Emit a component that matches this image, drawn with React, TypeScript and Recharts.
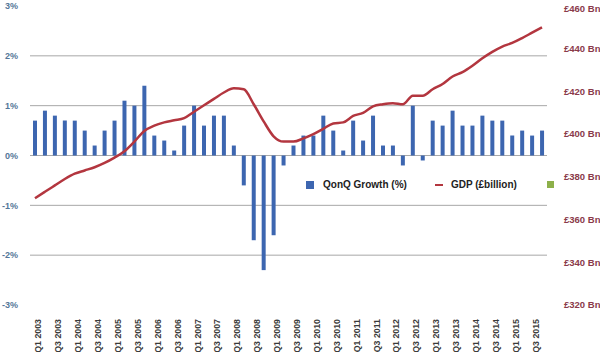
import React from "react";
import {
  ComposedChart,
  Bar,
  Line,
  XAxis,
  YAxis,
  CartesianGrid,
} from "recharts";

if (typeof document !== "undefined") document.body.style.margin = "0";

const years = [2003, 2004, 2005, 2006, 2007, 2008, 2009, 2010, 2011, 2012, 2013, 2014, 2015];
const quarterNames = ["Q1", "Q2", "Q3", "Q4"];

const growth = [
  0.7, 0.9, 0.8, 0.7,
  0.7, 0.5, 0.2, 0.5,
  0.7, 1.1, 1.0, 1.4,
  0.4, 0.3, 0.1, 0.6,
  1.0, 0.6, 0.8, 0.8,
  0.2, -0.6, -1.7, -2.3,
  -1.6, -0.2, 0.2, 0.4,
  0.4, 0.8, 0.5, 0.1,
  0.7, 0.3, 0.8, 0.2,
  0.2, -0.2, 1.0, -0.1,
  0.7, 0.6, 0.9, 0.6,
  0.6, 0.8, 0.7, 0.7,
  0.4, 0.5, 0.4, 0.5,
];

const gdp = [
  370, 373, 376, 379,
  381.5, 383, 384.5, 386.5,
  389, 392, 396.5, 401.5,
  404, 405.5, 406.5, 407.5,
  410.5, 413.5, 416.5, 419.5,
  421.5, 421, 414, 406,
  399, 396.5, 396.5, 398,
  400, 402.5, 405, 405.5,
  408.5, 410, 413, 414,
  414.5, 414, 418, 418,
  421, 423.5, 427, 429,
  432, 435.5, 438.5, 441,
  442.7, 445, 447.5, 450,
];

const pctTicks = [-3, -2, -1, 0, 1, 2, 3];
const gdpTicks = [320, 340, 360, 380, 400, 420, 440, 460];
const gridValues = [-2, -1, 0, 1, 2];

const labels = years.flatMap((y) => quarterNames.map((q) => `${q} ${y}`));
const data = labels.map((label, i) => ({ label, growth: growth[i], gdp: gdp[i] }));

const FONT = "'Liberation Sans', Arial, sans-serif";

function QuarterTick({ x, y, payload }: any) {
  return (
    <text
      transform={`translate(${x + 6.5},${y + 6}) rotate(-90)`}
      textAnchor="end"
      fontFamily={FONT}
      fontWeight="bold"
      fontSize={8.8}
      fill="#3a3a3a"
    >
      {payload.value}
    </text>
  );
}

function GdpTick({ x, y, payload }: any) {
  return (
    <text
      x={x + 9}
      y={y}
      dy="0.35em"
      textAnchor="start"
      fontFamily={FONT}
      fontWeight="bold"
      fontSize={9.5}
      fill="#8a3a4a"
    >
      {`£${payload.value} Bn`}
    </text>
  );
}

function ChartLegend() {
  return (
    <div
      style={{
        position: "absolute",
        left: 306,
        top: 179,
        display: "flex",
        alignItems: "center",
        fontFamily: FONT,
        fontWeight: "bold",
        fontSize: 10,
        color: "#222",
        whiteSpace: "nowrap",
      }}
    >
      <span style={{ width: 8, height: 8, background: "#3d66b0", marginRight: 9 }} />
      <span>QonQ Growth (%)</span>
      <span style={{ width: 8, height: 2, background: "#b3363f", marginLeft: 28, marginRight: 8 }} />
      <span>GDP (£billion)</span>
      <span style={{ width: 7, height: 7, background: "#8db04a", marginLeft: 30 }} />
    </div>
  );
}

export default function App() {
  return (
    <div style={{ position: "relative", width: 600, height: 352 }}>
      <ComposedChart
        width={600}
        height={352}
        data={data}
        margin={{ top: 6, right: 0, bottom: 0, left: 0 }}
        barCategoryGap={3}
      >
        <CartesianGrid
          yAxisId="pct"
          vertical={false}
          horizontalValues={gridValues}
          stroke="#a8a8a8"
          strokeWidth={1}
        />
        <XAxis
          dataKey="label"
          interval={1}
          height={47}
          tick={<QuarterTick />}
          tickLine={false}
          axisLine={false}
        />
        <YAxis
          yAxisId="pct"
          domain={[-3, 3]}
          ticks={pctTicks}
          width={30}
          tickFormatter={(v: number) => `${v}%`}
          tickLine={false}
          axisLine={false}
          tickMargin={6}
          tick={{ fontFamily: FONT, fontWeight: "bold", fontSize: 9, fill: "#557799" }}
        />
        <YAxis
          yAxisId="gdp"
          orientation="right"
          domain={[320, 460]}
          ticks={gdpTicks}
          width={53}
          tickLine={false}
          axisLine={false}
          tick={<GdpTick />}
        />
        <Bar
          yAxisId="pct"
          dataKey="growth"
          fill="#3d66b0"
          barSize={4}
          isAnimationActive={false}
        />
        <Line
          yAxisId="gdp"
          dataKey="gdp"
          type="monotone"
          stroke="#b3363f"
          strokeWidth={2.5}
          dot={false}
          isAnimationActive={false}
        />
      </ComposedChart>
      <ChartLegend />
    </div>
  );
}
